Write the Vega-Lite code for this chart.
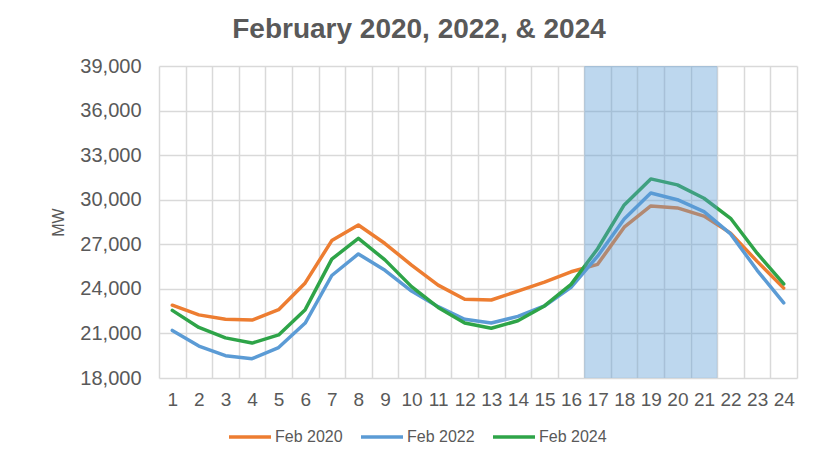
{
  "$schema": "https://vega.github.io/schema/vega-lite/v6.json",
  "autosize": "none",
  "width": 638,
  "height": 312,
  "padding": {"left": 159, "top": 66, "right": 20, "bottom": 85},
  "background": "white",
  "title": {
    "text": "February 2020, 2022, & 2024",
    "font": "Liberation Sans",
    "fontSize": 28,
    "fontWeight": "bold",
    "color": "#595959",
    "anchor": "middle",
    "dx": -59,
    "offset": 12
  },
  "datasets": {
    "load": [
      {"hour": 1, "series": "Feb 2020", "mw": 22900},
      {"hour": 2, "series": "Feb 2020", "mw": 22250},
      {"hour": 3, "series": "Feb 2020", "mw": 21950},
      {"hour": 4, "series": "Feb 2020", "mw": 21900},
      {"hour": 5, "series": "Feb 2020", "mw": 22600},
      {"hour": 6, "series": "Feb 2020", "mw": 24400},
      {"hour": 7, "series": "Feb 2020", "mw": 27250},
      {"hour": 8, "series": "Feb 2020", "mw": 28300},
      {"hour": 9, "series": "Feb 2020", "mw": 27050},
      {"hour": 10, "series": "Feb 2020", "mw": 25600},
      {"hour": 11, "series": "Feb 2020", "mw": 24250},
      {"hour": 12, "series": "Feb 2020", "mw": 23300},
      {"hour": 13, "series": "Feb 2020", "mw": 23250},
      {"hour": 14, "series": "Feb 2020", "mw": 23850},
      {"hour": 15, "series": "Feb 2020", "mw": 24450},
      {"hour": 16, "series": "Feb 2020", "mw": 25150},
      {"hour": 17, "series": "Feb 2020", "mw": 25650},
      {"hour": 18, "series": "Feb 2020", "mw": 28150},
      {"hour": 19, "series": "Feb 2020", "mw": 29580},
      {"hour": 20, "series": "Feb 2020", "mw": 29450},
      {"hour": 21, "series": "Feb 2020", "mw": 28900},
      {"hour": 22, "series": "Feb 2020", "mw": 27750},
      {"hour": 23, "series": "Feb 2020", "mw": 25850},
      {"hour": 24, "series": "Feb 2020", "mw": 24050},
      {"hour": 1, "series": "Feb 2022", "mw": 21200},
      {"hour": 2, "series": "Feb 2022", "mw": 20150},
      {"hour": 3, "series": "Feb 2022", "mw": 19500},
      {"hour": 4, "series": "Feb 2022", "mw": 19300},
      {"hour": 5, "series": "Feb 2022", "mw": 20050},
      {"hour": 6, "series": "Feb 2022", "mw": 21700},
      {"hour": 7, "series": "Feb 2022", "mw": 24900},
      {"hour": 8, "series": "Feb 2022", "mw": 26350},
      {"hour": 9, "series": "Feb 2022", "mw": 25250},
      {"hour": 10, "series": "Feb 2022", "mw": 23850},
      {"hour": 11, "series": "Feb 2022", "mw": 22800},
      {"hour": 12, "series": "Feb 2022", "mw": 21950},
      {"hour": 13, "series": "Feb 2022", "mw": 21700},
      {"hour": 14, "series": "Feb 2022", "mw": 22150},
      {"hour": 15, "series": "Feb 2022", "mw": 22850},
      {"hour": 16, "series": "Feb 2022", "mw": 24100},
      {"hour": 17, "series": "Feb 2022", "mw": 26200},
      {"hour": 18, "series": "Feb 2022", "mw": 28700},
      {"hour": 19, "series": "Feb 2022", "mw": 30450},
      {"hour": 20, "series": "Feb 2022", "mw": 30000},
      {"hour": 21, "series": "Feb 2022", "mw": 29200},
      {"hour": 22, "series": "Feb 2022", "mw": 27700},
      {"hour": 23, "series": "Feb 2022", "mw": 25250},
      {"hour": 24, "series": "Feb 2022", "mw": 23050},
      {"hour": 1, "series": "Feb 2024", "mw": 22550},
      {"hour": 2, "series": "Feb 2024", "mw": 21400},
      {"hour": 3, "series": "Feb 2024", "mw": 20700},
      {"hour": 4, "series": "Feb 2024", "mw": 20350},
      {"hour": 5, "series": "Feb 2024", "mw": 20900},
      {"hour": 6, "series": "Feb 2024", "mw": 22600},
      {"hour": 7, "series": "Feb 2024", "mw": 26000},
      {"hour": 8, "series": "Feb 2024", "mw": 27400},
      {"hour": 9, "series": "Feb 2024", "mw": 25950},
      {"hour": 10, "series": "Feb 2024", "mw": 24150},
      {"hour": 11, "series": "Feb 2024", "mw": 22750},
      {"hour": 12, "series": "Feb 2024", "mw": 21700},
      {"hour": 13, "series": "Feb 2024", "mw": 21350},
      {"hour": 14, "series": "Feb 2024", "mw": 21850},
      {"hour": 15, "series": "Feb 2024", "mw": 22850},
      {"hour": 16, "series": "Feb 2024", "mw": 24300},
      {"hour": 17, "series": "Feb 2024", "mw": 26700},
      {"hour": 18, "series": "Feb 2024", "mw": 29650},
      {"hour": 19, "series": "Feb 2024", "mw": 31400},
      {"hour": 20, "series": "Feb 2024", "mw": 31000},
      {"hour": 21, "series": "Feb 2024", "mw": 30100},
      {"hour": 22, "series": "Feb 2024", "mw": 28750},
      {"hour": 23, "series": "Feb 2024", "mw": 26400},
      {"hour": 24, "series": "Feb 2024", "mw": 24330}
    ],
    "peak": [
      {"hour": 17}, {"hour": 18}, {"hour": 19}, {"hour": 20}, {"hour": 21}
    ]
  },
  "layer": [
    {
      "data": {"name": "load"},
      "mark": {"type": "line", "strokeWidth": 3.5, "strokeCap": "round", "strokeJoin": "round"},
      "encoding": {
        "x": {
          "field": "hour",
          "type": "ordinal",
          "bandPosition": 0.5,
          "scale": {"type": "band", "paddingInner": 0, "paddingOuter": 0},
          "axis": {
            "title": null,
            "labelAngle": 0,
            "tickBand": "extent",
            "grid": true,
            "gridColor": "#d9d9d9",
            "gridWidth": 1.5,
            "ticks": false,
            "domain": false,
            "labelFont": "Liberation Sans",
            "labelFontSize": 19,
            "labelColor": "#595959",
            "labelPadding": 12
          }
        },
        "y": {
          "field": "mw",
          "type": "quantitative",
          "scale": {"domain": [18000, 39000], "nice": false, "zero": false},
          "axis": {
            "title": "MW",
            "titleFont": "Liberation Sans",
            "titleFontSize": 16,
            "titleFontWeight": "normal",
            "titleColor": "#595959",
            "titlePadding": 13,
            "values": [18000, 21000, 24000, 27000, 30000, 33000, 36000, 39000],
            "format": ",d",
            "grid": true,
            "gridColor": "#d9d9d9",
            "gridWidth": 1.5,
            "ticks": false,
            "domain": false,
            "labelFont": "Liberation Sans",
            "labelFontSize": 20,
            "labelColor": "#595959",
            "labelPadding": 18
          }
        },
        "color": {
          "field": "series",
          "type": "nominal",
          "scale": {
            "domain": ["Feb 2020", "Feb 2022", "Feb 2024"],
            "range": ["#ED7D31", "#5B9BD5", "#2EA448"]
          },
          "legend": {
            "title": null,
            "orient": "none",
            "direction": "horizontal",
            "legendX": 68,
            "legendY": 348,
            "symbolType": "stroke",
            "symbolSize": 1764,
            "symbolStrokeWidth": 3.5,
            "labelFont": "Liberation Sans",
            "labelFontSize": 16,
            "labelColor": "#595959",
            "labelOffset": 2,
            "columnPadding": 11
          }
        }
      }
    },
    {
      "data": {"name": "peak"},
      "mark": {"type": "rect", "color": "#5B9BD5", "opacity": 0.4},
      "encoding": {
        "x": {"field": "hour", "type": "ordinal"}
      }
    }
  ],
  "config": {
    "view": {"stroke": null}
  }
}
